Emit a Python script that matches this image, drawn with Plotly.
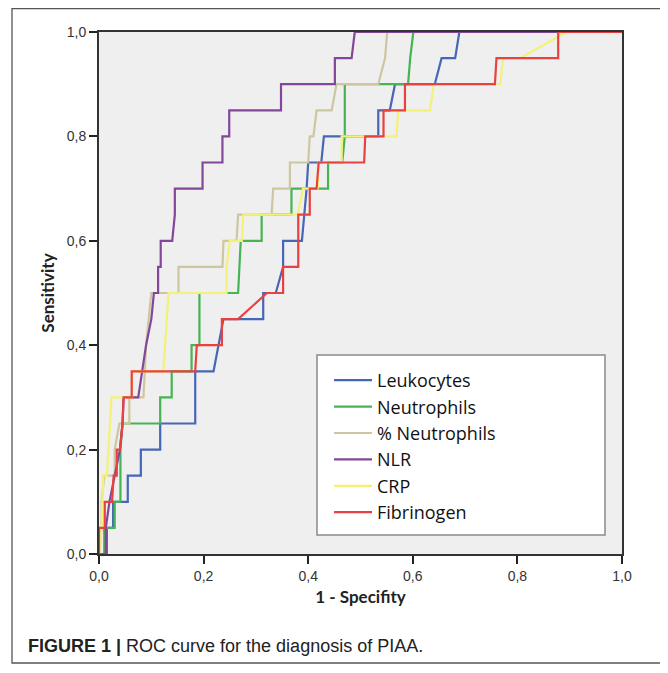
import plotly.graph_objects as go

# ---------------- data ----------------
series_names = ["Leukocytes", "Neutrophils", "% Neutrophils", "NLR", "CRP", "Fibrinogen"]
series_colors = ["#4666b6", "#46b452", "#cdc79f", "#83479a", "#f4f276", "#e8413f"]

leuko_fpr = [0, 0.015, 0.015, 0.027, 0.027, 0.055, 0.055, 0.080, 0.080, 0.117, 0.117, 0.184, 0.184,
             0.219, 0.238, 0.314, 0.314, 0.338, 0.352, 0.352, 0.388, 0.397, 0.400, 0.425, 0.430,
             0.534, 0.534, 0.556, 0.566, 0.642, 0.655, 0.681, 0.689, 1.0]
leuko_tpr = [0, 0, 0.05, 0.05, 0.10, 0.10, 0.15, 0.15, 0.20, 0.20, 0.25, 0.25, 0.35,
             0.35, 0.45, 0.45, 0.50, 0.50, 0.55, 0.60, 0.60, 0.70, 0.75, 0.75, 0.80,
             0.80, 0.85, 0.85, 0.90, 0.90, 0.95, 0.95, 1.0, 1.0]

neutro_fpr = [0, 0.010, 0.010, 0.030, 0.030, 0.041, 0.041, 0.045, 0.117, 0.117, 0.139, 0.139, 0.177,
              0.177, 0.192, 0.192, 0.266, 0.268, 0.271, 0.311, 0.311, 0.368, 0.368, 0.438, 0.438,
              0.465, 0.470, 0.470, 0.591, 0.595, 0.601, 1.0]
neutro_tpr = [0, 0, 0.05, 0.05, 0.10, 0.10, 0.20, 0.25, 0.25, 0.30, 0.30, 0.35, 0.35,
              0.40, 0.40, 0.50, 0.50, 0.55, 0.60, 0.60, 0.65, 0.65, 0.70, 0.70, 0.75,
              0.75, 0.80, 0.90, 0.90, 0.95, 1.0, 1.0]

pneutro_fpr = [0, 0.005, 0.005, 0.010, 0.030, 0.030, 0.039, 0.058, 0.058, 0.085, 0.090, 0.095, 0.100,
               0.152, 0.152, 0.236, 0.238, 0.263, 0.266, 0.330, 0.333, 0.365, 0.365, 0.400, 0.403,
               0.410, 0.416, 0.445, 0.454, 0.534, 0.547, 0.551, 1.0]
pneutro_tpr = [0, 0.05, 0.10, 0.15, 0.15, 0.20, 0.25, 0.25, 0.30, 0.30, 0.40, 0.45, 0.50,
               0.50, 0.55, 0.55, 0.60, 0.60, 0.65, 0.65, 0.70, 0.70, 0.75, 0.75, 0.80,
               0.80, 0.85, 0.85, 0.90, 0.90, 0.95, 1.0, 1.0]

nlr_fpr = [0, 0.013, 0.013, 0.020, 0.030, 0.040, 0.045, 0.047, 0.075, 0.090, 0.100, 0.105, 0.113,
           0.113, 0.118, 0.118, 0.140, 0.145, 0.145, 0.198, 0.198, 0.236, 0.236, 0.249, 0.249,
           0.348, 0.348, 0.451, 0.451, 0.483, 0.489, 1.0]
nlr_tpr = [0, 0, 0.05, 0.10, 0.15, 0.20, 0.25, 0.30, 0.30, 0.40, 0.45, 0.50, 0.50,
           0.55, 0.55, 0.60, 0.60, 0.65, 0.70, 0.70, 0.75, 0.75, 0.80, 0.80, 0.85,
           0.85, 0.90, 0.90, 0.95, 0.95, 1.0, 1.0]

crp_fpr = [0, 0.005, 0.008, 0.015, 0.024, 0.043, 0.063, 0.065, 0.123, 0.133, 0.244, 0.244, 0.250,
           0.273, 0.276, 0.380, 0.390, 0.418, 0.420, 0.464, 0.464, 0.569, 0.572, 0.633, 0.640,
           0.767, 0.773, 0.805, 0.894, 1.0]
crp_tpr = [0, 0.05, 0.15, 0.15, 0.30, 0.30, 0.30, 0.35, 0.35, 0.50, 0.50, 0.55, 0.60,
           0.60, 0.65, 0.65, 0.70, 0.70, 0.75, 0.75, 0.80, 0.80, 0.85, 0.85, 0.90,
           0.90, 0.95, 0.95, 1.0, 1.0]

fibri_fpr = [0, 0, 0.011, 0.011, 0.025, 0.028, 0.034, 0.034, 0.040, 0.045, 0.047, 0.0625, 0.0625,
             0.184, 0.187, 0.235, 0.235, 0.266, 0.321, 0.352, 0.352, 0.381, 0.381, 0.403, 0.403,
             0.416, 0.420, 0.507, 0.509, 0.544, 0.544, 0.585, 0.585, 0.757, 0.760, 0.878, 0.878, 1.0]
fibri_tpr = [0, 0.05, 0.05, 0.10, 0.10, 0.15, 0.15, 0.20, 0.20, 0.25, 0.30, 0.30, 0.35,
             0.35, 0.40, 0.40, 0.45, 0.45, 0.50, 0.50, 0.55, 0.55, 0.65, 0.65, 0.70,
             0.70, 0.75, 0.75, 0.80, 0.80, 0.85, 0.85, 0.90, 0.90, 0.95, 0.95, 1.0, 1.0]

tick_vals = [0.0, 0.2, 0.4, 0.6, 0.8, 1.0]
tick_text = ["0,0", "0,2", "0,4", "0,6", "0,8", "1,0"]

x_title = "1 - Specifity"
y_title = "Sensitivity"
caption = "<b>FIGURE 1 |</b> ROC curve for the diagnosis of PIAA."

# ---------------- figure ----------------
all_fpr = [leuko_fpr, neutro_fpr, pneutro_fpr, nlr_fpr, crp_fpr, fibri_fpr]
all_tpr = [leuko_tpr, neutro_tpr, pneutro_tpr, nlr_tpr, crp_tpr, fibri_tpr]

OFF = 8                     # default body margin of the html page
W, H = 660, 657
L, T = 99 - OFF, 32 - OFF
pw, ph = 523, 522
R, B = W - L - pw, H - T - ph


def px_x(page_px):
    return (page_px - OFF - L) / pw


def px_y(page_py):
    return (T + ph - (page_py - OFF)) / ph


fig = go.Figure()
for name, color, fx, ty in zip(series_names, series_colors, all_fpr, all_tpr):
    fig.add_trace(go.Scatter(x=fx, y=ty, mode="lines", name=name, legendgroup=name,
                             line=dict(color=color, width=2.2), hoverinfo="x+y+name"))

label_font = "Lato, Open Sans, sans-serif"
tick_font = dict(family="Liberation Sans, Arial, sans-serif", size=14, color="#333333")

axis_common = dict(range=[0, 1], tickvals=tick_vals, ticktext=tick_text, ticks="outside",
                   ticklen=8, tickwidth=1.5, tickcolor="#222222", showgrid=False, zeroline=False,
                   showline=True, linecolor="#333333", linewidth=2, mirror=True,
                   tickfont=tick_font, fixedrange=True)

fig.update_xaxes(**axis_common,
                 title=dict(text="<b>" + x_title + "</b>", standoff=8,
                            font=dict(family=label_font, size=17, color="#222222")))
fig.update_yaxes(**axis_common,
                 title=dict(text="<b>" + y_title + "</b>", standoff=8,
                            font=dict(family=label_font, size=17, color="#222222")))

# legend box (drawn as a shape) and outer figure frame
fig.add_shape(type="rect", xref="paper", yref="paper",
              x0=px_x(317), x1=px_x(605), y0=px_y(535), y1=px_y(355),
              fillcolor="white", line=dict(color="#8a8a8a", width=1.5), layer="below")
fig.add_shape(type="rect", xref="paper", yref="paper",
              x0=px_x(12), x1=px_x(666), y0=px_y(663), y1=px_y(8.7),
              fillcolor="rgba(0,0,0,0)", line=dict(color="#555555", width=1.3), layer="below")

fig.add_annotation(text=caption, xref="paper", yref="paper", x=px_x(26), y=px_y(646),
                   xanchor="left", yanchor="middle", showarrow=False,
                   font=dict(family="Liberation Sans Narrow, Liberation Sans, Arial", size=18,
                             color="#222222"))

fig.update_layout(
    width=W, height=H, autosize=False,
    margin=dict(l=L, r=R, t=T, b=B, pad=0),
    paper_bgcolor="white", plot_bgcolor="#efefef",
    showlegend=True,
    legend=dict(x=px_x(329), y=px_y(362), xanchor="left", yanchor="top",
                bgcolor="rgba(0,0,0,0)", borderwidth=0, traceorder="grouped",
                tracegroupgap=0, itemwidth=38,
                font=dict(family="Open Sans, sans-serif", size=18, color="#111111")),
    hovermode="closest",
)

fig.write_html("out.html")
